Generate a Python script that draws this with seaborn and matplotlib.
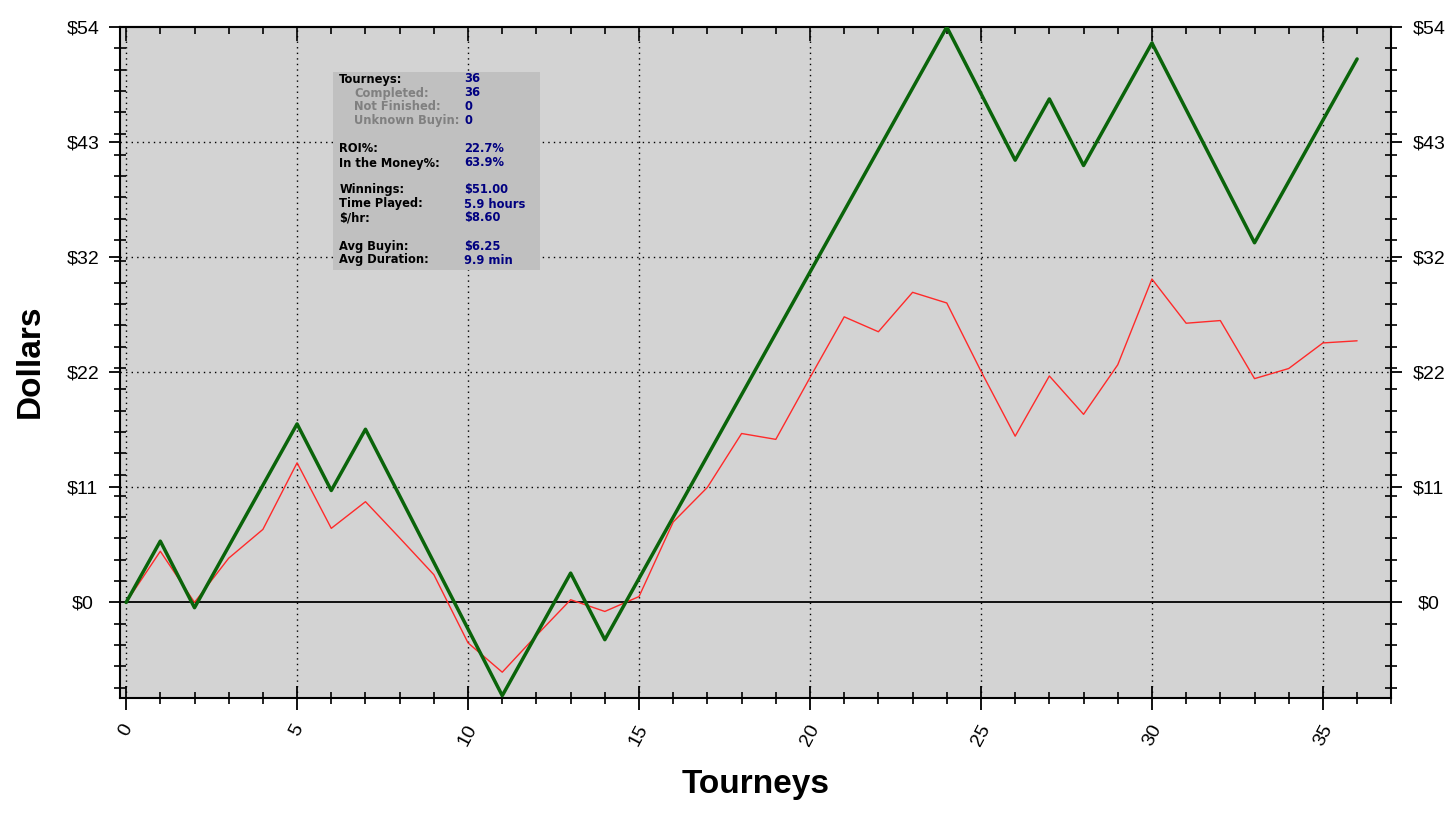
import numpy as np
import pandas as pd
import matplotlib
matplotlib.use("Agg")
import matplotlib.pyplot as plt
import seaborn as sns
from matplotlib.ticker import MultipleLocator, FixedLocator, FixedFormatter
from matplotlib.patches import Rectangle

# ---------------- data ----------------
tourneys = list(range(37))
winnings = [0.0, 5.75, -0.5, 5.25, 11.0, 16.75, 10.5, 16.25, 10.0, 3.75,
            -2.5, -8.75, -3.0, 2.75, -3.5, 2.25, 8.0, 13.75, 19.5, 25.25,
            31.0, 36.75, 42.5, 48.25, 54.0, 47.75, 41.5, 47.25, 41.0, 46.75,
            52.5, 46.25, 40.0, 33.75, 39.5, 45.25, 51.0]
second_series = [0.0, 4.8, 0.0, 4.15, 6.85, 13.1, 6.95, 9.45, 6.05, 2.6,
                 -3.8, -6.55, -3.1, 0.25, -0.85, 0.55, 7.55, 10.8, 15.85, 15.3,
                 21.1, 26.8, 25.4, 29.1, 28.1, 21.7, 15.6, 21.25, 17.65, 22.3,
                 30.35, 26.2, 26.45, 21.0, 21.95, 24.35, 24.55]
y_tick_values = [0.0, 10.8, 21.6, 32.4, 43.2, 54.0]
y_tick_labels = ["$0", "$11", "$22", "$32", "$43", "$54"]
x_tick_values = [0, 5, 10, 15, 20, 25, 30, 35]

stats_labels = ["Tourneys:", "Completed:", "Not Finished:", "Unknown Buyin:",
                "ROI%:", "In the Money%:",
                "Winnings:", "Time Played:", "$/hr:",
                "Avg Buyin:", "Avg Duration:"]
stats_values = ["36", "36", "0", "0",
                "22.7%", "63.9%",
                "$51.00", "5.9 hours", "$8.60",
                "$6.25", "9.9 min"]
stats_sub = [False, True, True, True, False, False, False, False, False, False, False]
stats_rows_px = [79, 93, 107, 120.5, 149, 163, 190, 204, 218, 246.5, 260]

# ---------------- figure ----------------
W, H = 1449, 819
DPI = 100
sns.set_theme(style="white")
plt.rcParams['font.family'] = ['Liberation Sans', 'DejaVu Sans']

fig = plt.figure(figsize=(W / DPI, H / DPI), dpi=DPI)
ax_l, ax_r, ax_t, ax_b = 120.3, 1391.3, 27.0, 698.3
ax = fig.add_axes([ax_l / W, 1 - ax_b / H, (ax_r - ax_l) / W, (ax_b - ax_t) / H])
ax.set_facecolor("#d3d3d3")

df = pd.DataFrame({"t": tourneys, "win": winnings, "sec": second_series})

# grid (dotted) at majors
for xv in x_tick_values:
    ax.axvline(xv, color="black", lw=1.0, ls=(0, (1, 3)), zorder=1)
for yv in y_tick_values[1:-1]:
    ax.axhline(yv, color="black", lw=1.0, ls=(0, (1, 3)), zorder=1)
ax.axhline(0, color="black", lw=1.3, zorder=2)

sns.lineplot(data=df, x="t", y="sec", ax=ax, color="#ff2a2a", lw=1.0, zorder=3)
sns.lineplot(data=df, x="t", y="win", ax=ax, color="#0a640a", lw=2.5, zorder=4)

ax.set_xlim(-0.17, 37.0)
ax.set_ylim(-9.0, 54.0)
ax.set_xlabel("")
ax.set_ylabel("")

for s in ax.spines.values():
    s.set_color("black")
    s.set_linewidth(1.5)

# x ticks
ax.xaxis.set_major_locator(FixedLocator(x_tick_values))
ax.xaxis.set_minor_locator(MultipleLocator(1))
ax.tick_params(axis="x", which="major", direction="inout", length=17, width=1.3,
               colors="black", labelsize=14, pad=8, bottom=True, top=False,
               labelrotation=62)
ax.tick_params(axis="x", which="minor", direction="inout", length=8, width=1.2,
               colors="black", bottom=True, top=False)
for lab in ax.get_xticklabels():
    lab.set_ha("center")

# top ticks
sec = ax.secondary_xaxis("top")
sec.xaxis.set_major_locator(FixedLocator(x_tick_values))
sec.xaxis.set_minor_locator(MultipleLocator(1))
sec.tick_params(axis="x", which="major", direction="in", length=10, width=1.2,
                labeltop=False, colors="black")
sec.tick_params(axis="x", which="minor", direction="in", length=5, width=1.2,
                colors="black")
sec.spines["top"].set_linewidth(1.5)

# y ticks
ax.yaxis.set_major_locator(FixedLocator(y_tick_values))
ax.yaxis.set_major_formatter(FixedFormatter(y_tick_labels))
ax.yaxis.set_minor_locator(MultipleLocator(2))
ax.tick_params(axis="y", which="major", direction="out", length=8, width=1.3,
               colors="black", labelsize=14, pad=19, left=True, right=True,
               labelleft=True, labelright=True)
ax.tick_params(axis="y", which="minor", direction="inout", length=8.5, width=1.2,
               colors="black", left=True, right=True)
for tk in ax.yaxis.get_major_ticks():
    tk.label1.set_horizontalalignment("center")
    tk.label2.set_horizontalalignment("center")

# axis titles
fig.text(756 / W, 1 - 793 / H, "Tourneys", ha="center", va="baseline",
         fontsize=24, fontweight="bold", color="black")
fig.text(30 / W, 1 - 361 / H, "Dollars", ha="center", va="center", rotation=90,
         fontsize=24, fontweight="bold", color="black")

# stats box
bx0, bx1, by0, by1 = 333.0, 539.5, 72.3, 270.0
fig.patches.append(Rectangle((bx0 / W, 1 - by1 / H), (bx1 - bx0) / W, (by1 - by0) / H,
                             transform=fig.transFigure, facecolor="#c0c0c0",
                             edgecolor="none", zorder=5))
for lab, val, sub, ypx in zip(stats_labels, stats_values, stats_sub, stats_rows_px):
    xl = 354.3 if sub else 339.3
    fig.text(xl / W, 1 - ypx / H, lab, ha="left", va="center", fontsize=8.3,
             fontweight="bold", family="DejaVu Sans",
             color="#808080" if sub else "black", zorder=6)
    fig.text(464.3 / W, 1 - ypx / H, val, ha="left", va="center", fontsize=8.3,
             fontweight="bold", family="DejaVu Sans", color="#000080", zorder=6)

fig.savefig("out.png", dpi=DPI, facecolor="white")
